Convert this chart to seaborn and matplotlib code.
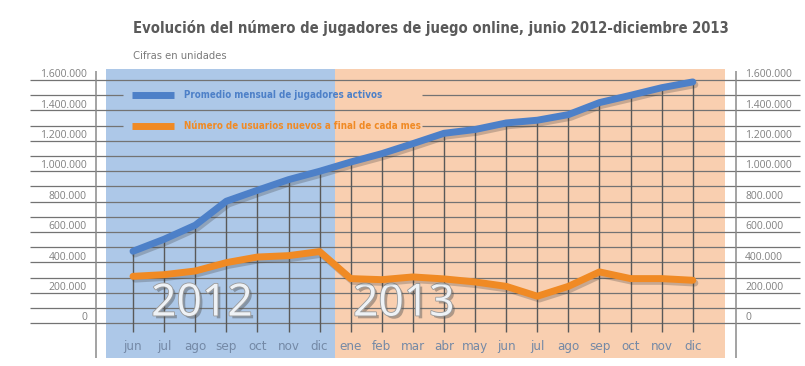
import pandas as pd
import matplotlib
matplotlib.use("Agg")
import matplotlib.pyplot as plt
import matplotlib.patheffects as pe
import seaborn as sns

meses = ["jun", "jul", "ago", "sep", "oct", "nov", "dic",
         "ene", "feb", "mar", "abr", "may", "jun", "jul", "ago", "sep", "oct", "nov", "dic"]
activos = [474000, 553000, 645000, 803000, 875000, 945000, 1000000,
           1061000, 1116000, 1182000, 1250000, 1275000, 1318000, 1336000,
           1373000, 1452000, 1500000, 1550000, 1588000]
nuevos = [309000, 320000, 344000, 399000, 436000, 445000, 472000,
          294000, 287000, 305000, 292000, 272000, 243000, 178000,
          243000, 338000, 294000, 294000, 283000]
ticks = [0, 200000, 400000, 600000, 800000, 1000000, 1200000, 1400000, 1600000]
tick_labels = ["0", "200.000", "400.000", "600.000", "800.000", "1.000.000",
               "1.200.000", "1.400.000", "1.600.000"]
serie_a = "Promedio mensual de jugadores activos"
serie_b = "Número de usuarios nuevos a final de cada mes"

df = pd.DataFrame({
    "mes": list(range(len(meses))) * 2,
    "valor": activos + nuevos,
    "serie": [serie_a] * len(meses) + [serie_b] * len(meses),
})

sns.set_style("white")
plt.rcParams["font.family"] = ["DejaVu Sans"]
plt.rcParams["font.stretch"] = "condensed"

fig = plt.figure(figsize=(8.05, 3.66), dpi=100)
ax = fig.add_axes([0, 0, 1, 1])
ax.set_xlim(-4.277, 21.608)
ax.set_ylim(-281000, 2127000)
ax.axis("off")

# fondos por año
ylo, yhi = -230000, 1671000
f0 = (ylo + 281000) / 2408000
f1 = (yhi + 281000) / 2408000
ax.axvspan(-0.87, 6.5, f0, f1, color="#adc8e8", lw=0, zorder=0)
ax.axvspan(6.5, 19.03, f0, f1, color="#f9cfb0", lw=0, zorder=0)

# rejilla horizontal (cortada donde va la leyenda)
grid_c = "#737373"
for v in range(0, 1700000, 100000):
    if v in (1300000, 1500000):
        ax.hlines(v, -3.31, -0.32, color=grid_c, lw=0.9, zorder=1)
        ax.hlines(v, 9.29, 21.45, color=grid_c, lw=0.9, zorder=1)
    else:
        ax.hlines(v, -3.31, 21.45, color=grid_c, lw=0.9, zorder=1)

ax.vlines([-1.19, 19.39], -230000, 1660000, color="#8a8a8a", lw=1.1, zorder=1)
ax.vlines(range(len(meses)), -60000, activos, color="#595959", lw=1.0, zorder=1)

for v, t in zip(ticks, tick_labels):
    ax.text(-1.48, v + 36000, t, ha="right", va="center", fontsize=7.5,
            color="#808080", family=["Open Sans", "DejaVu Sans"], stretch="normal")
    ax.text(19.68, v + 36000, t, ha="left", va="center", fontsize=7.5,
            color="#808080", family=["Open Sans", "DejaVu Sans"], stretch="normal")

for i, m in enumerate(meses):
    ax.text(i, -151000, m, ha="center", va="center", fontsize=9.5,
            color="#7489a6")

for x, year in [(2.22, "2012"), (8.71, "2013")]:
    ax.text(x, 125000, year, ha="center", va="center", fontsize=32,
            color="#eef2f6", family=["Open Sans", "DejaVu Sans"], stretch="normal", zorder=2,
            path_effects=[pe.withSimplePatchShadow(offset=(2, -2), shadow_rgbFace="#555555", alpha=0.45),
                          pe.withStroke(linewidth=1.2, foreground="#9a9a9a")])

shadow = [pe.SimpleLineShadow(offset=(1.5, -2), shadow_color="#333333", alpha=0.25),
          pe.Normal()]
sns.lineplot(data=df, x="mes", y="valor", hue="serie", ax=ax,
             palette={serie_a: "#4d80c8", serie_b: "#f08a24"},
             lw=5, solid_capstyle="round", zorder=3, legend=True)
for ln in ax.get_lines():
    ln.set_path_effects(shadow)

leg = ax.legend(loc="upper left", bbox_to_anchor=(133 / 805 - 0.006, 1 - 86 / 366),
                frameon=False, fontsize=7, handlelength=4.3, handleheight=0.6,
                labelspacing=2.15, handletextpad=1.0, borderaxespad=0)
for line, txt, c in zip(leg.get_lines(), leg.get_texts(), ["#4d80c8", "#f08a24"]):
    line.set_linewidth(5)
    line.set_solid_capstyle("butt")
    line.set_path_effects([])
    txt.set_color(c)
    txt.set_fontweight("bold")

fig.text(133 / 805, 1 - 28 / 366,
         "Evolución del número de jugadores de juego online, junio 2012-diciembre 2013",
         ha="left", va="center", fontsize=10.6, fontweight="bold", color="#5a5a5a")
fig.text(133 / 805, 1 - 56 / 366, "Cifras en unidades", ha="left", va="center",
         fontsize=8, color="#7a7a7a")

fig.savefig("out.png", dpi=100)
